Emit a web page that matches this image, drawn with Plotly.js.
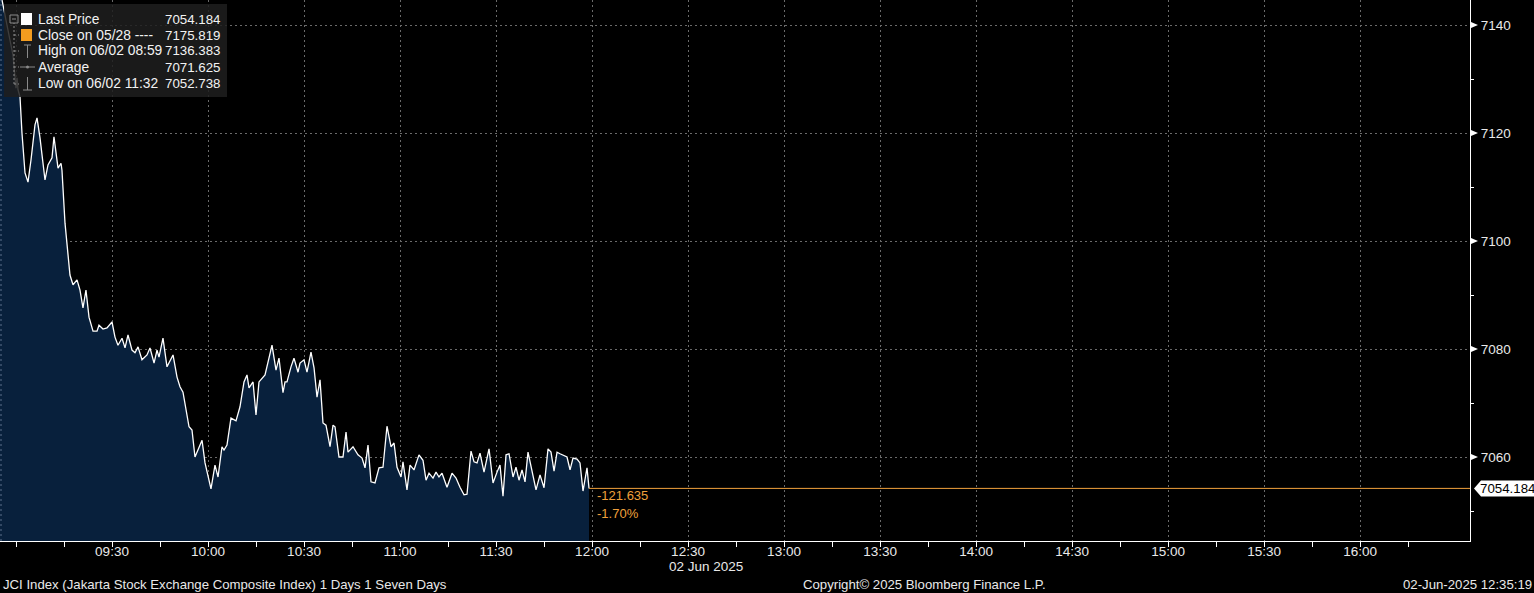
<!DOCTYPE html>
<html>
<head>
<meta charset="utf-8">
<script src="https://cdn.plot.ly/plotly-3.0.1.min.js"></script>
<style>
  html, body { margin: 0; padding: 0; background: #000; }
  #chart { width: 1534px; height: 593px; }
</style>
</head>
<body>
<div id="chart"></div>
<script>
// ---------- data ----------
const DAY = '2025-06-02 ';
const times = [
 '08:55:00','08:56:34','08:58:08','08:59:04','08:59:41','09:00:00','09:00:19','09:00:38','09:01:15','09:01:52',
 '09:02:49','09:03:45','09:04:41','09:05:56','09:06:34','09:07:30','09:09:04','09:10:00','09:11:15','09:11:52',
 '09:13:08','09:14:04','09:14:22','09:15:19','09:16:52','09:17:49','09:19:04','09:20:00','09:20:56','09:21:52',
 '09:22:49','09:24:04','09:25:19','09:25:56','09:27:11','09:28:26','09:30:00','09:30:56','09:31:52','09:33:08',
 '09:34:04','09:35:00','09:36:15','09:37:11','09:38:08','09:39:22','09:40:56','09:41:52','09:43:08','09:44:04',
 '09:44:41','09:45:56','09:47:11','09:49:04','09:50:19','09:51:15','09:52:11','09:54:04','09:55:00','09:55:56',
 '09:58:08','09:59:04','10:00:56','10:02:11','10:03:08','10:04:22','10:05:00','10:05:56','10:07:11','10:08:45',
 '10:10:00','10:11:15','10:12:11','10:12:49','10:14:04','10:15:00','10:15:56','10:17:49','10:20:00','10:21:15',
 '10:22:11','10:23:26','10:24:04','10:24:41','10:25:56','10:26:52','10:28:08','10:28:45','10:30:00','10:30:56',
 '10:32:11','10:33:08','10:34:04','10:35:00','10:35:56','10:36:52','10:38:08','10:39:04','10:39:41','10:40:56',
 '10:42:11','10:43:08','10:43:45','10:45:19','10:46:52','10:48:08','10:49:04','10:50:00','10:50:56','10:52:11',
 '10:53:26','10:54:41','10:55:56','10:57:11','10:58:08','10:59:04','11:00:19','11:00:56','11:02:11','11:03:08',
 '11:04:22','11:05:56','11:07:11','11:08:08','11:09:04','11:10:19','11:11:15','11:12:11','11:13:08','11:14:41',
 '11:16:15','11:17:30','11:18:45','11:20:00','11:20:56','11:22:11','11:23:08','11:24:04','11:25:00','11:26:15',
 '11:27:49','11:29:04','11:30:19','11:31:15','11:32:11','11:33:08','11:34:04','11:35:19','11:36:15','11:37:11',
 '11:38:08','11:39:04','11:40:00','11:41:15','11:42:30','11:43:45','11:45:00','11:46:15','11:47:11','11:48:08',
 '11:49:04','11:50:00','11:52:11','11:53:08','11:54:04','11:55:19','11:56:15','11:57:11','11:58:26','11:59:04'
];
const prices = [
 7146.5,7141.9,7137.2,7134.4,7130.4,7128.3,7130.2,7128.0,7126.7,7120.0,
 7112.6,7110.9,7115.0,7121.5,7122.8,7119.1,7111.3,7114.1,7115.4,7119.3,
 7113.5,7114.4,7113.1,7103.3,7093.7,7091.9,7092.8,7090.9,7087.6,7090.9,
 7085.9,7083.3,7083.3,7084.4,7083.7,7083.9,7085.0,7082.2,7080.7,7082.0,
 7080.2,7082.6,7079.8,7079.3,7080.4,7078.0,7078.9,7080.2,7077.4,7079.8,
 7078.5,7082.0,7076.7,7078.9,7074.8,7073.0,7072.0,7065.6,7065.0,7060.0,
 7063.1,7058.9,7054.1,7058.5,7056.3,7061.9,7061.3,7062.2,7067.2,7066.7,
 7069.3,7073.9,7075.2,7072.8,7073.9,7067.8,7073.9,7075.2,7080.7,7076.1,
 7078.3,7071.9,7073.9,7073.9,7076.7,7078.3,7075.7,7077.4,7078.0,7075.7,
 7079.4,7076.5,7071.1,7074.3,7066.3,7065.9,7061.9,7065.9,7065.6,7060.0,
 7060.0,7064.6,7060.9,7061.9,7060.4,7059.8,7058.0,7062.2,7055.4,7055.2,
 7058.0,7058.1,7065.7,7061.9,7062.6,7058.1,7056.3,7059.1,7053.9,7058.5,
 7057.6,7060.4,7059.4,7055.7,7057.0,7056.1,7057.2,7056.3,7057.0,7054.4,
 7057.0,7056.1,7054.4,7053.0,7053.1,7061.1,7059.1,7058.9,7060.7,7057.2,
 7061.5,7055.2,7057.2,7058.5,7052.738,7060.4,7060.6,7056.3,7058.1,7055.7,
 7057.6,7055.4,7060.9,7057.2,7053.9,7056.7,7054.3,7061.5,7060.9,7057.4,
 7060.9,7060.6,7060.0,7057.6,7059.8,7059.6,7058.9,7053.7,7058.0,7054.184
];
const prevClose = 7175.819;
const legendLabels = ['Last Price','Close on 05/28 ----','High on 06/02 08:59','Average','Low on 06/02 11:32'];
const legendValues = ['7054.184','7175.819','7136.383','7071.625','7052.738'];
const xTickTimes = ['09:00','09:30','10:00','10:30','11:00','11:30','12:00','12:30','13:00','13:30','14:00','14:30','15:00','15:30','16:00'];
const xTickText  = ['','09:30','10:00','10:30','11:00','11:30','12:00','12:30','13:00','13:30','14:00','14:30','15:00','15:30','16:00'];
const xMinorTimes = ['09:15','09:45','10:15','10:45','11:15','11:45','12:15','12:45','13:15','13:45','14:15','14:45','15:15','15:45','16:15'];
const yTickVals = [7060,7080,7100,7120,7140];
const yMinorVals = [7050,7070,7090,7110,7130];
const footerLeft = 'JCI Index (Jakarta Stock Exchange Composite Index) 1 Days 1 Seven Days';
const footerMid = 'Copyright\u00A9 2025 Bloomberg Finance L.P.';
const footerRight = '02-Jun-2025 12:35:19';
const dateLabel = '02 Jun 2025';

// ---------- layout helpers ----------
const W = 1470, H = 541;
const px = x => x / W;
const py = y => 1 - y / H;
const FONT = 'Liberation Sans, Arial, sans-serif';
const TXT = '#e9e9e9';
const ORANGE = '#f0a03c';
const GRID = '#6a6a6a';
const xStart = DAY + '08:55:00';
const xEnd = DAY + '16:34:22';

const x = times.map(t => DAY + t);
const last = prices[prices.length - 1];
const lastT = x[x.length - 1];
const chg = last - prevClose;
const pct = chg / prevClose * 100;

const traces = [{
  type: 'scatter', mode: 'lines', x: x, y: prices,
  line: {color: '#ffffff', width: 1.3},
  fill: 'tozeroy', fillcolor: '#08203c',
  hoverinfo: 'skip', showlegend: false
}];

const shapes = [];
const annotations = [];

// last price orange line
shapes.push({type: 'line', xref: 'x', yref: 'y', x0: lastT, x1: xEnd, y0: last, y1: last,
  line: {color: ORANGE, width: 1}, layer: 'above'});

// left boundary dashed line
shapes.push({type: 'line', xref: 'paper', yref: 'paper', x0: px(1), x1: px(1), y0: 0, y1: 1,
  line: {color: '#5d718c', width: 1, dash: '2px,3px'}, layer: 'above'});

// right axis arrow markers at major ticks
yTickVals.forEach(v => {
  shapes.push({type: 'path', xref: 'paper', yref: 'y', xsizemode: 'pixel', ysizemode: 'pixel',
    xanchor: 1, yanchor: v, path: 'M1,-3 L8,0 L1,3 Z', fillcolor: '#ffffff', line: {width: 0}});
});

// last price tag on the right axis
shapes.push({type: 'path', xref: 'paper', yref: 'y', xsizemode: 'pixel', ysizemode: 'pixel',
  xanchor: 1, yanchor: last, path: 'M4,0 L11,8 L64,8 L64,-8 L11,-8 Z', fillcolor: '#ffffff', line: {width: 0}});
annotations.push({xref: 'paper', yref: 'y', x: px(1478), y: last, xanchor: 'left', yanchor: 'middle',
  text: last.toFixed(3), showarrow: false, font: {family: FONT, size: 13.3, color: '#000'}});

// change annotations
annotations.push({xref: 'paper', yref: 'paper', x: px(595), y: py(496), xanchor: 'left', yanchor: 'middle',
  text: chg.toFixed(3), showarrow: false, font: {family: FONT, size: 13, color: ORANGE}});
annotations.push({xref: 'paper', yref: 'paper', x: px(595), y: py(513), xanchor: 'left', yanchor: 'middle',
  text: pct.toFixed(2) + '%', showarrow: false, font: {family: FONT, size: 13, color: ORANGE}});

// legend box
shapes.push({type: 'rect', xref: 'paper', yref: 'paper', x0: px(4), x1: px(227), y0: py(97), y1: py(4),
  fillcolor: 'rgba(30,30,30,0.86)', line: {width: 0}, layer: 'above'});
const rowY = [19, 35, 51, 67, 84];
const GR = '#8a8a8a';
shapes.push({type: 'rect', xref: 'paper', yref: 'paper', x0: px(10), x1: px(18), y0: py(23), y1: py(15),
  fillcolor: 'rgba(0,0,0,0)', line: {color: GR, width: 1}, layer: 'above'});
shapes.push({type: 'line', xref: 'paper', yref: 'paper', x0: px(12), x1: px(16), y0: py(19), y1: py(19),
  line: {color: GR, width: 1}, layer: 'above'});
shapes.push({type: 'line', xref: 'paper', yref: 'paper', x0: px(14), x1: px(14), y0: py(84), y1: py(23),
  line: {color: GR, width: 1, dash: '2px,2px'}, layer: 'above'});
rowY.slice(1).forEach(yy => {
  shapes.push({type: 'line', xref: 'paper', yref: 'paper', x0: px(14), x1: px(19), y0: py(yy), y1: py(yy),
    line: {color: GR, width: 1, dash: '2px,2px'}, layer: 'above'});
});
shapes.push({type: 'rect', xref: 'paper', yref: 'paper', x0: px(21), x1: px(32), y0: py(25), y1: py(13),
  fillcolor: '#ffffff', line: {width: 0}, layer: 'above'});
shapes.push({type: 'rect', xref: 'paper', yref: 'paper', x0: px(21), x1: px(32), y0: py(41), y1: py(29),
  fillcolor: '#f39c1f', line: {width: 0}, layer: 'above'});
shapes.push({type: 'line', xref: 'paper', yref: 'paper', x0: px(24), x1: px(31), y0: py(45), y1: py(45),
  line: {color: GR, width: 1}, layer: 'above'});
shapes.push({type: 'line', xref: 'paper', yref: 'paper', x0: px(27.5), x1: px(27.5), y0: py(58), y1: py(45),
  line: {color: GR, width: 1}, layer: 'above'});
shapes.push({type: 'line', xref: 'paper', yref: 'paper', x0: px(20), x1: px(35), y0: py(67), y1: py(67),
  line: {color: GR, width: 1}, layer: 'above'});
shapes.push({type: 'circle', xref: 'paper', yref: 'paper', x0: px(26), x1: px(29), y0: py(68.5), y1: py(65.5),
  fillcolor: GR, line: {width: 0}, layer: 'above'});
shapes.push({type: 'line', xref: 'paper', yref: 'paper', x0: px(27.5), x1: px(27.5), y0: py(90), y1: py(77),
  line: {color: GR, width: 1}, layer: 'above'});
shapes.push({type: 'line', xref: 'paper', yref: 'paper', x0: px(23), x1: px(32), y0: py(90), y1: py(90),
  line: {color: GR, width: 1}, layer: 'above'});

legendLabels.forEach((lab, i) => {
  annotations.push({xref: 'paper', yref: 'paper', x: px(36), y: py(rowY[i]), xanchor: 'left', yanchor: 'middle',
    text: lab, showarrow: false, font: {family: FONT, size: 13.8, color: '#f2f2f2'}});
  annotations.push({xref: 'paper', yref: 'paper', x: px(222), y: py(rowY[i]), xanchor: 'right', yanchor: 'middle',
    text: legendValues[i], showarrow: false, font: {family: FONT, size: 13.3, color: '#f2f2f2'}});
});

// date label and footer
annotations.push({xref: 'paper', yref: 'paper', x: px(667), y: py(566), xanchor: 'left', yanchor: 'middle',
  text: dateLabel, showarrow: false, font: {family: FONT, size: 13.5, color: TXT}});
annotations.push({xref: 'paper', yref: 'paper', x: px(1), y: py(584), xanchor: 'left', yanchor: 'middle',
  text: footerLeft, showarrow: false, font: {family: FONT, size: 13.2, color: TXT}});
annotations.push({xref: 'paper', yref: 'paper', x: px(924), y: py(584), xanchor: 'center', yanchor: 'middle',
  text: footerMid, showarrow: false, font: {family: FONT, size: 13.2, color: TXT}});
annotations.push({xref: 'paper', yref: 'paper', x: 1534 / W, y: py(584), xanchor: 'right', yanchor: 'middle',
  text: footerRight, showarrow: false, font: {family: FONT, size: 13.2, color: TXT}});

const layout = {
  width: 1534, height: 593,
  paper_bgcolor: '#000', plot_bgcolor: '#000',
  margin: {l: 0, r: 64, t: 0, b: 52, pad: 0},
  showlegend: false,
  font: {family: FONT, color: TXT, size: 13},
  xaxis: {
    type: 'date', range: [xStart, xEnd], fixedrange: true,
    tickmode: 'array', tickvals: xTickTimes.map(t => DAY + t), ticktext: xTickText,
    ticks: 'outside', ticklen: 5, tickcolor: '#ffffff', tickwidth: 1,
    ticklabelstandoff: -7,
    showgrid: true, gridcolor: GRID, griddash: '2px,3px', gridwidth: 1,
    showline: true, linecolor: '#ffffff', linewidth: 1, zeroline: false,
    tickfont: {family: FONT, size: 13.5, color: TXT},
    minor: {tickmode: 'array', tickvals: xMinorTimes.map(t => DAY + t), ticks: 'outside', ticklen: 5, tickcolor: '#ffffff', showgrid: false}
  },
  yaxis: {
    side: 'right', range: [7044.444, 7144.63], fixedrange: true,
    tickmode: 'array', tickvals: yTickVals, ticktext: yTickVals.map(String),
    ticks: '', ticklabelstandoff: 7,
    showgrid: true, gridcolor: GRID, griddash: '2px,3px', gridwidth: 1,
    showline: true, linecolor: '#ffffff', linewidth: 1, zeroline: false,
    tickfont: {family: FONT, size: 13.5, color: TXT},
    minor: {tickmode: 'array', tickvals: yMinorVals, ticks: 'outside', ticklen: 3, tickcolor: '#ffffff', showgrid: false}
  },
  shapes: shapes,
  annotations: annotations
};

Plotly.newPlot('chart', traces, layout, {displayModeBar: false, staticPlot: true});
</script>
</body>
</html>
